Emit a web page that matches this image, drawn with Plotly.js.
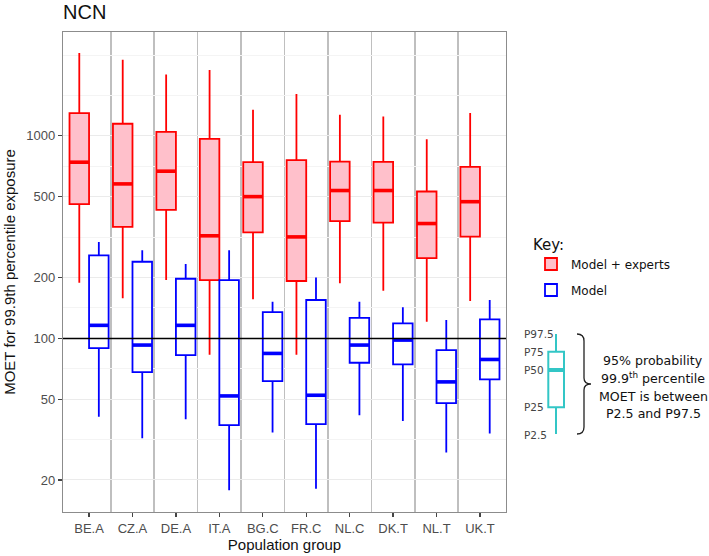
<!DOCTYPE html>
<html>
<head>
<meta charset="utf-8">
<script src="https://cdn.plot.ly/plotly-3.0.1.min.js"></script>
<style>html,body{margin:0;padding:0;background:#fff;}#chart{width:709px;height:556px;}</style>
</head>
<body>
<div id="chart"></div>
<script>
// ---- data ----
const categories = ['BE.A','CZ.A','DE.A','IT.A','BG.C','FR.C','NL.C','DK.T','NL.T','UK.T'];

// Model + experts
const expertP2_5  = [188, 158, 194, 83, 156, 83, 187, 172, 121, 153];
const expertP25   = [460, 355, 431, 194, 334, 192, 379, 373, 249, 318];
const expertP50   = [741, 579, 669, 321, 501, 317, 537, 537, 369, 473];
const expertP75   = [1295, 1147, 1047, 967, 741, 758, 746, 744, 531, 703];
const expertP97_5 = [2563, 2375, 2010, 2113, 1345, 1608, 1270, 1245, 963, 1295];

// Model
const modelP2_5  = [41, 32.1, 39.9, 17.8, 34.3, 18.1, 41.8, 39.1, 27.3, 33.9];
const modelP25   = [89.6, 68.1, 82.7, 37.3, 61.5, 37.7, 75.8, 74.4, 47.9, 62.7];
const modelP50   = [116, 92.7, 116, 52, 84.3, 52.4, 92.7, 98.1, 61, 78.7];
const modelP75   = [257, 239, 197, 194, 134.9, 154.7, 126.4, 118.6, 87.5, 124.1];
const modelP97_5 = [299, 272, 233, 272, 151.7, 200, 151.7, 142.3, 123.2, 154.7];

const yTicks = [20, 50, 100, 200, 500, 1000];
const referenceLine = 100;

// ---- layout helpers ----
const FONT = 'Liberation Sans, Arial, sans-serif';
const KEYFONT = 'DejaVu Sans, Verdana, sans-serif';
const DODGE = 0.225, BOXW = 0.45;
const pos = categories.map((c, i) => i + 1);

function medianLines(offset, med) {
  const xs = [], ys = [];
  pos.forEach((p, i) => {
    xs.push(p + offset - BOXW / 2, p + offset + BOXW / 2, null);
    ys.push(med[i], med[i], null);
  });
  return {xs, ys};
}

const redM = medianLines(-DODGE, expertP50);
const blueM = medianLines(DODGE, modelP50);

const traces = [
  {
    type: 'box', name: 'Model + experts', legendgroup: 'a',
    x: pos.map(p => p - DODGE), width: BOXW,
    lowerfence: expertP2_5, q1: expertP25, median: expertP50, q3: expertP75, upperfence: expertP97_5,
    fillcolor: '#ffc0cb', line: {color: '#ff0000', width: 1.8},
    whiskerwidth: 0, boxpoints: false, hoverinfo: 'skip'
  },
  {
    type: 'box', name: 'Model', legendgroup: 'b',
    x: pos.map(p => p + DODGE), width: BOXW,
    lowerfence: modelP2_5, q1: modelP25, median: modelP50, q3: modelP75, upperfence: modelP97_5,
    fillcolor: 'rgba(255,255,255,0)', line: {color: '#0000ff', width: 1.8},
    whiskerwidth: 0, boxpoints: false, hoverinfo: 'skip'
  },
  {type: 'scatter', mode: 'lines', x: redM.xs, y: redM.ys, showlegend: false,
   line: {color: '#ff0000', width: 3.6}, hoverinfo: 'skip'},
  {type: 'scatter', mode: 'lines', x: blueM.xs, y: blueM.ys, showlegend: false,
   line: {color: '#0000ff', width: 3.6}, hoverinfo: 'skip'}
];

// minor grid (ggplot-style midpoints in log space, plus one extension break)
const lt = yTicks.map(v => Math.log10(v));
const step = lt[1] - lt[0];
const ext = lt.concat([lt[lt.length - 1] + step]);
const minorY = [];
for (let i = 0; i < ext.length - 1; i++) minorY.push(Math.pow(10, (ext[i] + ext[i + 1]) / 2));
minorY.push(Math.pow(10, ext[ext.length - 1]));

const sepX = pos.slice(0, -1).map(p => p + 0.5);

// pixel -> paper conversion for the key illustration
const L = 63, R = 506, T = 32, B = 512;
const px = x => (x - L) / (R - L);
const py = y => (B - y) / (B - T);

const cyan = '#33c6c6';
const cx = 556, bx0 = 548.3, bx1 = 564;
const kP975 = 334, kP75 = 351.7, kP50 = 370, kP25 = 407.3, kP25b = 434;

const shapes = [
  {type: 'line', xref: 'paper', yref: 'y', x0: 0, x1: 1, y0: referenceLine, y1: referenceLine,
   line: {color: '#000', width: 1.5}, layer: 'above'},
  {type: 'line', xref: 'paper', yref: 'paper', x0: px(cx), x1: px(cx), y0: py(kP975), y1: py(kP75), line: {color: cyan, width: 2}},
  {type: 'line', xref: 'paper', yref: 'paper', x0: px(cx), x1: px(cx), y0: py(kP25), y1: py(kP25b), line: {color: cyan, width: 2}},
  {type: 'rect', xref: 'paper', yref: 'paper', x0: px(bx0), x1: px(bx1), y0: py(kP25), y1: py(kP75), line: {color: cyan, width: 2}},
  {type: 'line', xref: 'paper', yref: 'paper', x0: px(bx0), x1: px(bx1), y0: py(kP50), y1: py(kP50), line: {color: cyan, width: 4}},
];
// brace
(function () {
  const x0 = 577, xm = 584, xt = 591, yt = 334, yb = 434, ym = (yt + yb) / 2;
  const P = (x, y) => px(x) + ',' + py(y);
  const d = 'M' + P(x0, yt) + ' Q' + P(xm, yt) + ' ' + P(xm, yt + 7) +
            ' L' + P(xm, ym - 6) + ' Q' + P(xm, ym) + ' ' + P(xt, ym) +
            ' Q' + P(xm, ym) + ' ' + P(xm, ym + 6) +
            ' L' + P(xm, yb - 7) + ' Q' + P(xm, yb) + ' ' + P(x0, yb);
  shapes.push({type: 'path', xref: 'paper', yref: 'paper', path: d, line: {color: '#222', width: 1.3}});
})();

const pLabels = [['P97.5', kP975], ['P75', kP75], ['P50', kP50], ['P25', kP25], ['P2.5', kP25b + 1]];
const annotations = pLabels.map(([t, y]) => ({
  xref: 'paper', yref: 'paper', x: px(522), y: py(y), xanchor: 'left', yanchor: 'middle',
  text: t, showarrow: false, font: {family: KEYFONT, size: 10.5, color: '#444'}
}));
const braceText = ['95% probability', '99.9<sup>th</sup> percentile', 'MOET is between', 'P2.5 and P97.5'];
const braceY = [360.7, 378.3, 396, 413.6];
braceText.forEach((t, i) => annotations.push({
  xref: 'paper', yref: 'paper', x: px(653), y: py(braceY[i]), xanchor: 'center', yanchor: 'middle',
  text: t, showarrow: false, font: {family: KEYFONT, size: 12.6, color: '#111'}
}));

const layout = {
  width: 709, height: 556,
  margin: {l: L, r: 709 - R, t: T, b: 556 - B, pad: 0},
  paper_bgcolor: '#fff', plot_bgcolor: '#fff',
  font: {family: FONT, color: '#222'},
  title: {text: 'NCN', x: 0, xref: 'paper', xanchor: 'left', y: 1 - 12 / 556, yref: 'container', yanchor: 'middle',
          font: {family: FONT, size: 20, color: '#111'}},
  showlegend: true,
  legend: {
    x: px(531), y: py(230), xanchor: 'left', yanchor: 'top',
    title: {text: 'Key:', font: {family: KEYFONT, size: 15, color: '#111'}},
    font: {family: KEYFONT, size: 12, color: '#111'},
    tracegroupgap: 7, bgcolor: 'rgba(0,0,0,0)', itemwidth: 30
  },
  xaxis: {
    range: [0.4, 10.6], tickmode: 'array', tickvals: pos, ticktext: categories,
    showgrid: false, zeroline: false,
    minor: {tickmode: 'array', tickvals: sepX, showgrid: true, gridcolor: '#bfbfbf', gridwidth: 1.6, ticklen: 0},
    ticks: 'outside', ticklen: 4, tickcolor: '#444', tickwidth: 1.2,
    tickfont: {family: FONT, size: 13, color: '#4d4d4d'},
    showline: true, mirror: true, linecolor: '#8c8c8c', linewidth: 1.2,
    title: {text: 'Population group', font: {family: FONT, size: 15, color: '#111'}, standoff: 4}
  },
  yaxis: {
    type: 'log', range: [Math.log10(13.9), Math.log10(3255)],
    tickmode: 'array', tickvals: yTicks, ticktext: yTicks.map(String),
    showgrid: true, gridcolor: '#ebebeb', gridwidth: 1, zeroline: false,
    minor: {tickmode: 'array', tickvals: minorY, showgrid: true, gridcolor: '#f4f4f4', gridwidth: 1, ticklen: 0},
    ticks: 'outside', ticklen: 4, tickcolor: '#444', tickwidth: 1.2,
    tickfont: {family: FONT, size: 13, color: '#4d4d4d'},
    showline: true, mirror: true, linecolor: '#8c8c8c', linewidth: 1.2,
    title: {text: 'MOET for 99.9th percentile exposure', font: {family: FONT, size: 15, color: '#111'}, standoff: 7}
  },
  shapes: shapes,
  annotations: annotations
};

Plotly.newPlot('chart', traces, layout, {staticPlot: true, displayModeBar: false});
</script>
</body>
</html>
